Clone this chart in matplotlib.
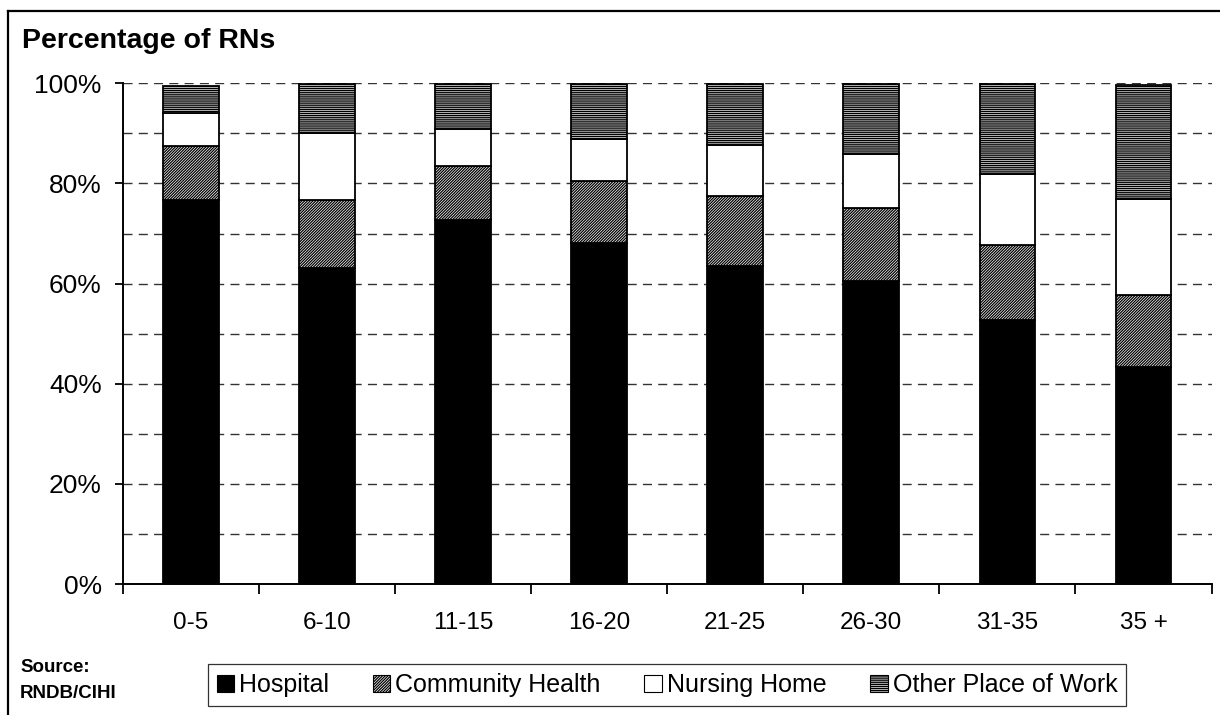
import matplotlib
matplotlib.use("Agg")
import matplotlib.pyplot as plt
import numpy as np
from matplotlib.patches import Patch
from matplotlib.lines import Line2D

plt.rcParams['font.family'] = ['Liberation Sans', 'DejaVu Sans']
plt.rcParams['hatch.linewidth'] = 0.9

categories = ["0-5", "6-10", "11-15", "16-20", "21-25", "26-30", "31-35", "35 +"]
hospital = [76.7, 63.1, 72.7, 68.2, 63.5, 60.5, 52.7, 43.4]
community_health = [10.7, 13.5, 10.8, 12.2, 13.9, 14.5, 15.0, 14.3]
nursing_home = [6.6, 13.5, 7.3, 8.5, 10.3, 10.8, 14.2, 19.2]
other_work = [5.5, 9.7, 9.0, 10.9, 12.1, 14.0, 17.9, 22.7]
series_names = ["Hospital", "Community Health", "Nursing Home", "Other Place of Work"]

W, H = 1220, 715
fig = plt.figure(figsize=(W / 100, H / 100), dpi=100)
ax = fig.add_axes([122.7 / W, 1 - 584 / H, (1211.6 - 122.7) / W, (584 - 83.3) / H])

x = np.arange(len(categories))
bw = 0.41
styles = [
    dict(facecolor="black", edgecolor="black", hatch=None),
    dict(facecolor="white", edgecolor="black", hatch="////////////"),
    dict(facecolor="white", edgecolor="black", hatch=None),
    dict(facecolor="#d0d0d0", edgecolor="black", hatch="--------"),
]
bottom = np.zeros(len(categories))
for vals, st in zip([hospital, community_health, nursing_home, other_work], styles):
    ax.bar(x, vals, bw, bottom=bottom, linewidth=1.3, zorder=3, **st)
    bottom += np.array(vals)

ax.set_xlim(-0.5, len(categories) - 0.5)
ax.set_ylim(0, 100)

# dashed gridlines every 10 %
for g in range(10, 101, 10):
    ax.axhline(g, color="#333333", linewidth=1.0, dashes=(6.5, 4.5), zorder=1)

ax.set_yticks(range(0, 101, 20))
ax.set_yticklabels([f"{v}%" for v in range(0, 101, 20)], fontsize=19)
ax.tick_params(axis="y", direction="out", length=6, width=1.3, pad=9)

ax.set_xticks(np.arange(-0.5, len(categories), 1.0))
ax.set_xticklabels([])
ax.set_xticks(x, minor=True)
ax.set_xticklabels(categories, minor=True, fontsize=17.5)
ax.tick_params(axis="x", which="major", direction="out", length=7, width=1.3)
ax.tick_params(axis="x", which="minor", length=0, pad=20)

for s in ["top", "right"]:
    ax.spines[s].set_visible(False)
for s in ["left", "bottom"]:
    ax.spines[s].set_linewidth(1.4)
    ax.spines[s].set_zorder(4)

# outer frame
fig.add_artist(Line2D([8 / W, 8 / W], [0, 1 - 11 / H], transform=fig.transFigure,
                      color="black", linewidth=1.6))
fig.add_artist(Line2D([8 / W, 1.0], [1 - 11 / H, 1 - 11 / H], transform=fig.transFigure,
                      color="black", linewidth=1.6))

fig.text(22 / W, 1 - 48 / H, "Percentage of RNs", fontsize=20.5, fontweight="bold",
         ha="left", va="baseline")
fig.text(20 / W, 1 - 668 / H, "Source:", fontsize=13.5, fontweight="bold", ha="left", va="center")
fig.text(20 / W, 1 - 694 / H, "RNDB/CIHI", fontsize=13.5, fontweight="bold", ha="left", va="center")

handles = [Patch(linewidth=0.8, **st) for st in styles]
leg = fig.legend(handles, series_names, loc="center", ncol=4,
                 bbox_to_anchor=(667 / W, 1 - 685 / H), fontsize=18,
                 handlelength=0.7, handleheight=0.7, handletextpad=0.2,
                 columnspacing=1.75, frameon=True, fancybox=False,
                 borderpad=0.35, edgecolor="black")
leg.get_frame().set_linewidth(0.9)

fig.savefig("out.png", dpi=100, facecolor="white")
